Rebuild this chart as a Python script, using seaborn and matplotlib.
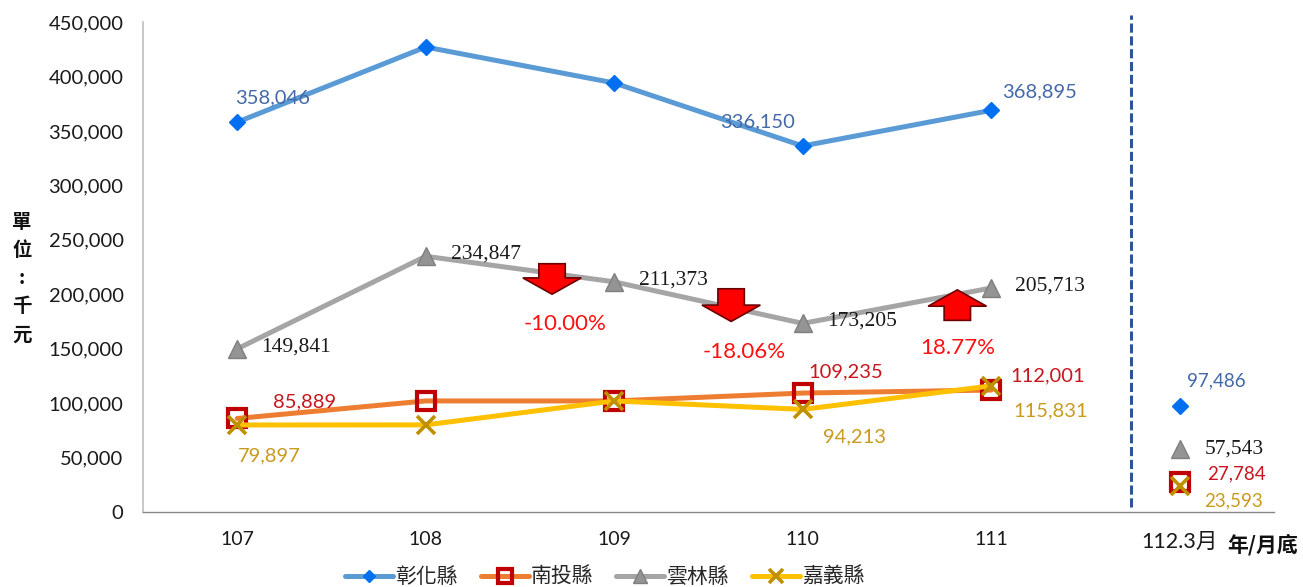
import matplotlib
matplotlib.use('Agg')
import matplotlib.pyplot as plt
import pandas as pd
import seaborn as sns
from matplotlib.ticker import FuncFormatter

years = ['107', '108', '109', '110', '111']
latest = '112.3月'

changhua = [358046, 427000, 394000, 336150, 368895]
nantou = [85889, 102000, 102000, 109235, 112001]
yunlin = [149841, 234847, 211373, 173205, 205713]
chiayi = [79897, 80000, 102000, 94213, 115831]

latest_changhua = 97486
latest_nantou = 27784
latest_yunlin = 57543
latest_chiayi = 23593

SANS = ['Lato', 'Noto Sans CJK TC']
SERIF = ['Liberation Serif', 'Noto Sans CJK TC']

BLUE_TXT = '#4468A8'
RED_TXT = '#C8161E'
GOLD_TXT = '#C99A1C'
BLACK_TXT = '#1A1A1A'

series = [
    ('彰化縣', changhua, latest_changhua, '#5B9BD5',
     dict(marker='D', ms=8, mfc='#0070F0', mec='#0070F0', mew=1)),
    ('南投縣', nantou, latest_nantou, '#ED7D31',
     dict(marker='s', ms=13, mfc='none', mec='#C00000', mew=3)),
    ('雲林縣', yunlin, latest_yunlin, '#A5A5A5',
     dict(marker='^', ms=13, mfc='#949494', mec='#7F7F7F', mew=1)),
    ('嘉義縣', chiayi, latest_chiayi, '#FFC000',
     dict(marker='x', ms=13, mec='#BF9000', mew=2.6)),
]

# text, category index, offset from the point in pixels, colour, font
value_labels = [
    ('358,046', 0, 358046, 35, 24, BLUE_TXT, SANS),
    ('368,895', 4, 368895, 48, 18, BLUE_TXT, SANS),
    ('336,150', 3, 336150, -45, 24, BLUE_TXT, SANS),
    ('234,847', 1, 234847, 60, 2, BLACK_TXT, SERIF),
    ('211,373', 2, 211373, 59, 2, BLACK_TXT, SERIF),
    ('173,205', 3, 173205, 59, 2, BLACK_TXT, SERIF),
    ('205,713', 4, 205713, 59, 2, BLACK_TXT, SERIF),
    ('149,841', 0, 149841, 59, 2, BLACK_TXT, SERIF),
    ('85,889', 0, 85889, 67, 17, RED_TXT, SANS),
    ('109,235', 3, 109235, 43, 21, RED_TXT, SANS),
    ('112,001', 4, 112001, 56, 14, RED_TXT, SANS),
    ('79,897', 0, 79897, 32, -31, GOLD_TXT, SANS),
    ('94,213', 3, 94213, 52, -27, GOLD_TXT, SANS),
    ('115,831', 4, 115831, 59, -25, GOLD_TXT, SANS),
    ('97,486', 5, 97486, 37, 25, BLUE_TXT, SANS),
    ('57,543', 5, 57543, 54, 0, BLACK_TXT, SERIF),
    ('27,784', 5, 27784, 57, 8, RED_TXT, SANS),
    ('23,593', 5, 23593, 54, -15, GOLD_TXT, SANS),
]

# change markers: x centre, tail, tip (data units), label
arrow_x = [1.67, 2.62, 3.82]
arrow_tail = [228000, 205000, 176000]
arrow_tip = [200000, 175000, 204000]
arrow_text = ['-10.00%', '-18.06%', '18.77%']
arrow_text_x = [1.74, 2.69, 3.82]
arrow_text_y = [173000, 147000, 151000]

sns.set_theme(style='white')
plt.rcParams['font.family'] = SANS

fig = plt.figure(figsize=(13.03, 5.87), dpi=100)
ax = fig.add_axes([143 / 1303, 75 / 587, 1131 / 1303, 490 / 587])

all_cats = years + [latest]
for name, values, last, color, mk in series:
    df = pd.DataFrame({'year': years, 'value': values})
    sns.lineplot(data=df, x='year', y='value', color=color, lw=3.6, ax=ax,
                 label=name, errorbar=None, sort=False, zorder=3, **mk)

ax.set_xlim(-0.5, 5.5)
ax.set_ylim(0, 450000)

for name, values, last, color, mk in series:
    ax.plot([5], [last], ls='none', zorder=4, **mk)

ax.set_xticks(range(len(all_cats)))
ax.set_xticklabels(all_cats, fontsize=14, color=BLACK_TXT)
ax.get_xticklabels()[-1].set_fontsize(15.5)
ax.set_yticks(range(0, 450001, 50000))
ax.yaxis.set_major_formatter(FuncFormatter(lambda v, p: f'{int(v):,}'))
ax.tick_params(axis='y', length=0, pad=14, labelsize=14.5, labelcolor=BLACK_TXT)
ax.tick_params(axis='x', length=0, pad=14)
ax.set_xlabel('')
ax.set_ylabel('')

sns.despine(ax=ax)
ax.spines['left'].set_color('#BFBFBF')
ax.spines['left'].set_linewidth(1.2)
ax.spines['bottom'].set_color('#868686')
ax.spines['bottom'].set_linewidth(1.0)

# separator before the latest month
ax.plot([4.74, 4.74], [4500, 456000], color='#2F5597', lw=2.2, ls=(0, (3, 1.2)),
        clip_on=False, zorder=2)

for text, i, v, dx, dy, color, font in value_labels:
    if font is SERIF:
        size = 15.5
    elif i == 5:
        size = 13.5
    else:
        size = 14.5
    ax.annotate(text, (i, v), xytext=(dx, dy), textcoords='offset pixels',
                ha='center', va='center', color=color, fontsize=size,
                family=font, zorder=6)

for x, tail, tip, text, tx, ty in zip(arrow_x, arrow_tail, arrow_tip, arrow_text,
                                      arrow_text_x, arrow_text_y):
    ax.arrow(x, tail, 0, tip - tail, width=0.14, head_width=0.31,
             head_length=15000, length_includes_head=True,
             fc='#FF0000', ec='#6B0000', lw=1.2, zorder=5)
    ax.text(tx, ty, text, color='#FF1010', fontsize=16, ha='center', va='center')

fig.text(22 / 1303, 1 - 279 / 587, '單\n位\n:\n千\n元', family=['Noto Sans CJK TC'],
         fontweight='bold', fontsize=14, ha='center', va='center',
         linespacing=1.6, color='#111111')
fig.text(1263 / 1303, 1 - 545 / 587, '年/月底', family=['Noto Sans CJK TC'],
         fontweight='bold', fontsize=15, ha='center', va='center', color='#111111')

handles, labels = ax.get_legend_handles_labels()
ax.legend(handles, labels, loc='center', bbox_to_anchor=(605 / 1303, 1 - 577 / 587),
          bbox_transform=fig.transFigure, ncol=4, frameon=False,
          prop={'family': ['Noto Sans CJK TC'], 'size': 15},
          handlelength=2.3, handletextpad=0.1, columnspacing=1.1, markerscale=0.8,
          borderpad=0)

fig.savefig('out.png', dpi=100)
